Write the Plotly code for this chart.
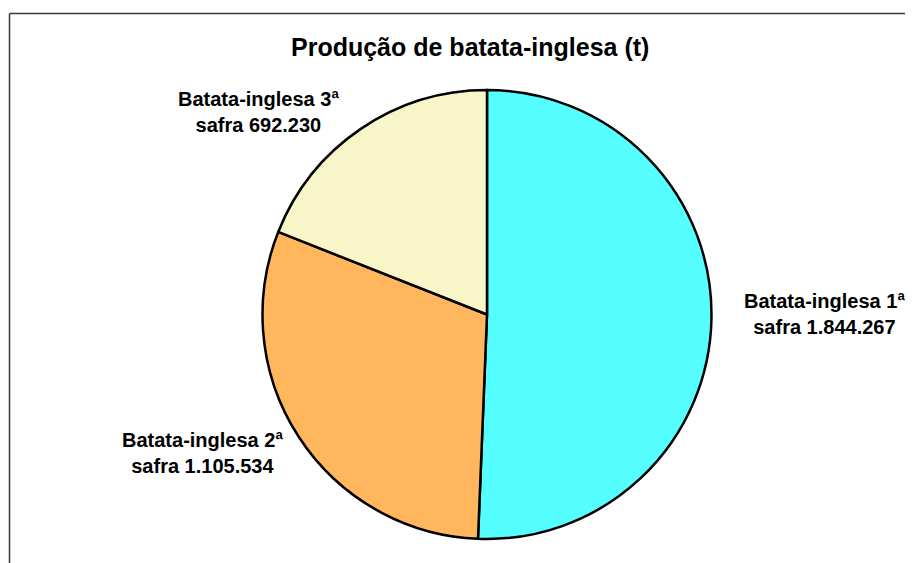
import plotly.graph_objects as go

# Data
categories = ["Batata-inglesa 1ª safra", "Batata-inglesa 2ª safra", "Batata-inglesa 3ª safra"]
values = [1844267, 1105534, 692230]
title_text = "Produção de batata-inglesa (t)"
slice_colors = ["#55FFFF", "#FFB65C", "#F8F6C8"]

W, H = 913, 563
FONT = "Arial, Liberation Sans, sans-serif"
OFF = 8  # page body margin offset


def fmt_pt(v):
    return f"{v:,}".replace(",", ".")


def label_text(cat, v):
    words = cat.rsplit(" ", 1)
    return f"<b>{words[0]}<br>{words[1]} {fmt_pt(v)}</b>"


def px_x(x):
    return (x - OFF) / W


def px_y(y):
    return 1 - (y - OFF) / H


# pie geometry in screen pixels
cx, cy, r = 487, 314.5, 224.5

fig = go.Figure()
fig.add_trace(go.Pie(
    labels=categories,
    values=values,
    sort=False,
    direction="clockwise",
    rotation=0,
    marker=dict(colors=slice_colors, line=dict(color="#000000", width=2.5)),
    textinfo="none",
    hoverinfo="label+value",
    showlegend=False,
    domain=dict(x=[px_x(cx - r), px_x(cx + r)], y=[px_y(cy + r), px_y(cy - r)]),
))

# label positions (screen pixel centres)
label_pos = [(824, 314), (202, 453), (258, 112)]
annotations = []
for cat, v, (px, py) in zip(categories, values, label_pos):
    annotations.append(dict(
        text=label_text(cat, v), x=px_x(px), y=px_y(py), xref="paper", yref="paper",
        showarrow=False, align="center", xanchor="center", yanchor="middle",
        font=dict(family=FONT, size=20, color="#000000"),
    ))

annotations.append(dict(
    text=f"<b>{title_text}</b>", x=px_x(470), y=px_y(47), xref="paper", yref="paper",
    showarrow=False, xanchor="center", yanchor="middle",
    font=dict(family=FONT, size=25, color="#000000"),
))

fig.update_layout(
    width=W, height=H,
    margin=dict(l=0, r=0, t=0, b=0),
    paper_bgcolor="#FFFFFF",
    plot_bgcolor="#FFFFFF",
    annotations=annotations,
    shapes=[
        dict(type="line", xref="paper", yref="paper", x0=px_x(9.5), x1=1.02, y0=px_y(13.5), y1=px_y(13.5),
             line=dict(color="#3A3A3A", width=1.5)),
        dict(type="line", xref="paper", yref="paper", x0=px_x(9.5), x1=px_x(9.5), y0=-0.02, y1=px_y(13.5),
             line=dict(color="#3A3A3A", width=1.5)),
    ],
)

fig.write_html("out.html")
